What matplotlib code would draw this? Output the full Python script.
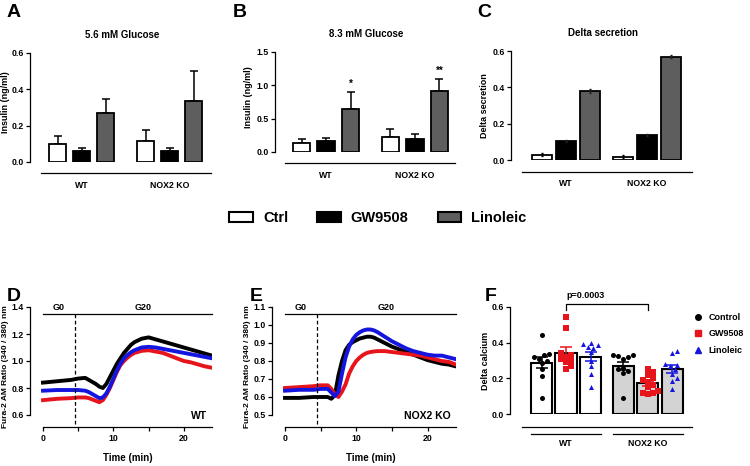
import numpy as np
import matplotlib
matplotlib.use("Agg")
import matplotlib.pyplot as plt
from matplotlib.patches import Patch
from matplotlib.lines import Line2D
from matplotlib.ticker import FormatStrFormatter

plt.rcParams['font.family'] = ['Liberation Sans', 'DejaVu Sans']
plt.rcParams['font.weight'] = 'bold'
plt.rcParams['axes.labelweight'] = 'bold'
plt.rcParams['axes.titleweight'] = 'bold'
plt.rcParams['axes.linewidth'] = 0.9

# ---- data ----
groups = ['WT', 'NOX2 KO']
treatments = ['Ctrl', 'GW9508', 'Linoleic']
bar_colors = ['white', 'black', '#5e5e5e']

# A: insulin at 5.6 mM glucose (ng/ml): mean and top of error bar, per group
ins56_mean = [[0.10, 0.058, 0.27], [0.115, 0.06, 0.335]]
ins56_top = [[0.145, 0.075, 0.345], [0.175, 0.075, 0.50]]
# B: insulin at 8.3 mM glucose
ins83_mean = [[0.13, 0.16, 0.65], [0.23, 0.19, 0.91]]
ins83_top = [[0.19, 0.21, 0.90], [0.35, 0.27, 1.10]]
ins83_stars = [['', '', '*'], ['', '', '**']]
# C: delta secretion, mean and SEM
delta_mean = [[0.03, 0.105, 0.38], [0.017, 0.137, 0.568]]
delta_sem = [[0.01, 0.006, 0.01], [0.008, 0.006, 0.009]]

# D / E: Fura-2 ratio time courses
t_min = [0, 2, 4, 5, 6, 6.5, 7, 7.5, 8, 8.5, 9, 9.5, 10, 10.5, 11, 11.5, 12,
         12.5, 13, 14, 15, 16, 17, 18, 19, 20, 21, 22, 23, 24]
wt_ctrl = [.84, .85, .86, .87, .875, .86, .845, .83, .81, .80, .83, .88, .93, .98,
           1.02, 1.06, 1.09, 1.12, 1.14, 1.165, 1.175, 1.16, 1.145, 1.13, 1.115,
           1.10, 1.085, 1.07, 1.055, 1.04]
wt_gw = [.71, .72, .725, .73, .73, .725, .715, .705, .695, .71, .75, .80, .86, .92,
         .97, 1.00, 1.025, 1.045, 1.06, 1.075, 1.08, 1.07, 1.06, 1.04, 1.02, 1.00,
         .99, .975, .96, .95]
wt_lin = [.78, .785, .785, .785, .78, .77, .755, .74, .725, .73, .76, .81, .87, .93,
          .98, 1.02, 1.045, 1.065, 1.08, 1.10, 1.105, 1.10, 1.09, 1.08, 1.07, 1.06,
          1.05, 1.04, 1.03, 1.02]
ko_ctrl = [.595, .595, .60, .60, .60, .59, .61, .72, .80, .86, .89, .905, .915, .925,
           .93, .935, .935, .93, .92, .90, .88, .865, .85, .835, .82, .805, .795,
           .785, .78, .77]
ko_gw = [.65, .655, .66, .665, .665, .645, .615, .60, .63, .67, .73, .77, .80, .82,
         .835, .845, .85, .853, .855, .855, .85, .845, .84, .835, .83, .82, .81,
         .80, .795, .78]
ko_lin = [.635, .64, .64, .645, .645, .625, .605, .63, .73, .82, .88, .92, .945, .96,
          .97, .975, .975, .97, .96, .935, .91, .89, .87, .855, .845, .835, .83,
          .83, .82, .81]
glucose_switch = 4.5

# F: delta calcium, individual cells
f_labels = ['Control', 'GW9508', 'Linoleic']
dca_wt = [
    [0.445, 0.335, 0.33, 0.32, 0.31, 0.30, 0.285, 0.25, 0.215, 0.09],
    [0.545, 0.485, 0.34, 0.33, 0.32, 0.31, 0.30, 0.29, 0.27, 0.25],
    [0.40, 0.395, 0.385, 0.375, 0.37, 0.345, 0.30, 0.27, 0.225, 0.15],
]
dca_ko = [
    [0.33, 0.33, 0.325, 0.32, 0.31, 0.26, 0.25, 0.24, 0.23, 0.09],
    [0.25, 0.235, 0.22, 0.20, 0.19, 0.18, 0.165, 0.15, 0.13, 0.12, 0.115, 0.11],
    [0.355, 0.34, 0.28, 0.275, 0.27, 0.25, 0.225, 0.20, 0.185, 0.14],
]
p_text = 'p=0.0003'

trace_colors = ['black', '#e8141c', '#1515e0']
markers = ['o', 's', '^']

W, H = 750, 466
fig = plt.figure(figsize=(W / 100, H / 100), dpi=100)

TICK_FS = 6.3
LABEL_FS = 6.5


def px_axes(left, top, right, bottom):
    return fig.add_axes([left / W, 1 - bottom / H, (right - left) / W, (bottom - top) / H])


def base_style(ax):
    ax.spines['top'].set_visible(False)
    ax.spines['right'].set_visible(False)
    ax.tick_params(labelsize=TICK_FS, width=0.9, length=3, pad=1.5)
    ax.patch.set_alpha(0)


def place_ylabel(ax, text, x_px, left, width, ycen=0.5, fs=LABEL_FS):
    # x_px is the right edge of the rotated label
    ax.set_ylabel(text, fontsize=fs)
    ax.yaxis.set_label_coords((x_px - left) / width, ycen)


def bar_axes(spec):
    ax = px_axes(spec['spine'], spec['top'], spec['right'], spec['bottom'])
    base_style(ax)
    ppu, first = spec['ppu'], spec['first']
    ax.set_xlim((spec['spine'] - first) / ppu, (spec['right'] - first) / ppu)
    ax.spines['bottom'].set_position(('outward', (spec['line_y'] - spec['bottom']) * 0.72))
    ax.spines['bottom'].set_bounds((spec['line'][0] - first) / ppu, (spec['line'][1] - first) / ppu)
    ax.set_xticks([1, spec['group'] + 1])
    ax.set_xticklabels(groups, fontsize=TICK_FS)
    ax.tick_params(axis='x', length=0, pad=spec['xpad'])
    return ax


def positions(spec):
    return [[g * spec['group'] + k for k in range(3)] for g in range(2)]


def insulin_panel(spec, means, tops, ylim, yticks, title, ylabel, stars=None):
    ax = bar_axes(spec)
    pos = positions(spec)
    for g in range(2):
        for k in range(3):
            ax.bar(pos[g][k], means[g][k], width=spec['width'], color=bar_colors[k],
                   edgecolor='black', linewidth=1.3, zorder=3)
            ax.errorbar(pos[g][k], means[g][k], yerr=[[0], [tops[g][k] - means[g][k]]],
                        fmt='none', ecolor='black', elinewidth=1.1, capsize=3.2,
                        capthick=1.1, zorder=2)
            if stars and stars[g][k]:
                ax.annotate(stars[g][k], (pos[g][k], tops[g][k]), xytext=(0, 2),
                            textcoords='offset points', ha='center', va='bottom', fontsize=7)
    ax.set_ylim(*ylim)
    ax.set_yticks(yticks)
    ax.yaxis.set_major_formatter(FormatStrFormatter('%.1f'))
    ax.set_title(title, fontsize=7, pad=11)
    place_ylabel(ax, ylabel, spec['ylab_x'], spec['spine'], spec['right'] - spec['spine'],
                 ycen=0.55)
    return ax


spec_a = dict(spine=30, top=53, bottom=162, right=214, first=57.5, ppu=24, group=3.67,
              width=0.71, line=(41, 211), line_y=173, xpad=6, ylab_x=10)
spec_b = dict(spine=275, top=52, bottom=152, right=458, first=301.5, ppu=24.5, group=3.63,
              width=0.7, line=(285, 455), line_y=163, xpad=6, ylab_x=253)
spec_c = dict(spine=511, top=51, bottom=160, right=695, first=542, ppu=24, group=3.375,
              width=0.83, line=(522, 692), line_y=172, xpad=5, ylab_x=489)
spec_f = dict(spine=510, top=307, bottom=414, right=695, first=541.5, ppu=24.5, group=3.33,
              width=0.86, line=(522, 692), line_y=427, xpad=9, ylab_x=490)

# A
insulin_panel(spec_a, ins56_mean, ins56_top, (0, 0.6), [0, 0.2, 0.4, 0.6],
              '5.6 mM Glucose', 'Insulin (ng/ml)')
# B
insulin_panel(spec_b, ins83_mean, ins83_top, (0, 1.5), [0, 0.5, 1.0, 1.5],
              '8.3 mM Glucose', 'Insulin (ng/ml)', stars=ins83_stars)
# C
ax_c = bar_axes(spec_c)
pos_c = positions(spec_c)
for g in range(2):
    for k in range(3):
        ax_c.bar(pos_c[g][k], delta_mean[g][k], width=spec_c['width'], color=bar_colors[k],
                 edgecolor='black', linewidth=1.3, zorder=2)
        ax_c.errorbar(pos_c[g][k], delta_mean[g][k], yerr=delta_sem[g][k], fmt='none',
                      ecolor='black' if k == 0 else '#222222', elinewidth=1.0, capsize=1,
                      zorder=3)
ax_c.set_ylim(0, 0.6)
ax_c.set_yticks([0, 0.2, 0.4, 0.6])
ax_c.yaxis.set_major_formatter(FormatStrFormatter('%.1f'))
ax_c.set_title('Delta secretion', fontsize=7, pad=11)
place_ylabel(ax_c, 'Delta secretion', spec_c['ylab_x'], spec_c['spine'],
             spec_c['right'] - spec_c['spine'])

# middle legend
handles = [Patch(facecolor=c, edgecolor='black', linewidth=1.5, label=l)
           for c, l in zip(bar_colors, treatments)]
fig.legend(handles=handles, loc='center', bbox_to_anchor=(378 / W, 1 - 218 / H), ncol=3,
           frameon=False, fontsize=10.5, handlelength=1.6, handleheight=0.62,
           handletextpad=0.7, columnspacing=2.0, borderpad=0)


# D / E
def trace_panel(left, right, traces, ylim, yticks, genotype, ylab_x):
    top, bottom = 307, 415
    ax = px_axes(left, top, right, bottom)
    base_style(ax)
    ppm = (right - left - 13) / 24.0
    ax.set_xlim(-13 / ppm, 24)
    for y, c in zip(traces, trace_colors):
        ax.plot(t_min, y, color=c, lw=2.8, solid_joinstyle='round')
    ax.set_ylim(*ylim)
    ax.set_yticks(yticks)
    ax.yaxis.set_major_formatter(FormatStrFormatter('%.1f'))
    ax.spines['bottom'].set_position(('outward', 12 * 0.72))
    ax.spines['bottom'].set_bounds(0, 24)
    ax.set_xticks([0, 10, 20])
    ax.set_xticks([5, 15], minor=True)
    ax.tick_params(axis='x', which='both', width=0.9, length=3, labelsize=TICK_FS, pad=2)
    # glucose phases
    gy = (bottom - 314) / (bottom - top)
    tr = ax.get_xaxis_transform()
    ax.plot([0, 24], [gy, gy], color='black', lw=0.9, transform=tr, clip_on=False)
    ax.plot([glucose_switch, glucose_switch], [gy, -12 / (bottom - top)], color='black',
            lw=0.9, ls=(0, (3, 2)), transform=tr, clip_on=False)
    ax.text(glucose_switch / 2, 0.995, 'G0', transform=tr, ha='center', va='center', fontsize=6.5)
    ax.text((glucose_switch + 24) / 2, 0.995, 'G20', transform=tr, ha='center', va='center',
            fontsize=6.5)
    ax.text(23.3, -0.01, genotype, transform=tr, ha='right', va='center', fontsize=7.5)
    ax.set_xlabel('Time (min)', fontsize=7)
    ax.xaxis.set_label_coords((12 + 13 / ppm) / (24 + 13 / ppm), -0.35)
    place_ylabel(ax, 'Fura-2 AM Ratio (340 / 380) nm', ylab_x, left, right - left,
                 ycen=0.45, fs=6.0)
    return ax


trace_panel(30, 212, [wt_ctrl, wt_gw, wt_lin], (0.6, 1.4),
            [0.6, 0.8, 1.0, 1.2, 1.4], 'WT', 9)
trace_panel(272, 456, [ko_ctrl, ko_gw, ko_lin], (0.5, 1.1),
            [0.5, 0.6, 0.7, 0.8, 0.9, 1.0, 1.1], 'NOX2 KO', 251)


# F
def swarm_offsets(values, ypx, xpx, size_px):
    order = np.argsort(values)
    placed = []
    offs = np.zeros(len(values))
    for i in order:
        y = values[i] * ypx
        x = 0.0
        for k in [0, 1, -1, 2, -2, 3, -3, 4, -4, 5, -5]:
            x = k * 0.5 * size_px
            if all((x - px) ** 2 + (y - py) ** 2 >= size_px ** 2 for px, py in placed):
                break
        placed.append((x, y))
        offs[i] = x / xpx
    return offs


ax_f = bar_axes(spec_f)
pos_f = positions(spec_f)
ypx_f = (spec_f['bottom'] - spec_f['top']) / 0.6
for g, data in enumerate([dca_wt, dca_ko]):
    fill = 'white' if g == 0 else '#d3d3d3'
    for k in range(3):
        vals = np.array(data[k])
        m = vals.mean()
        sem = vals.std(ddof=1) / np.sqrt(len(vals))
        x = pos_f[g][k]
        ax_f.bar(x, m, width=spec_f['width'], color=fill, edgecolor='black', linewidth=1.5,
                 zorder=2)
        xo = swarm_offsets(vals, ypx_f, spec_f['ppu'], 5.0)
        ax_f.scatter(x + xo, vals, s=13, marker=markers[k], color=trace_colors[k],
                     linewidths=0, zorder=3, clip_on=False)
        ax_f.errorbar(x, m, yerr=sem, fmt='none', ecolor=trace_colors[k], elinewidth=1.1,
                      capsize=4, capthick=1.1, zorder=4)
    left_edge = pos_f[g][0] - spec_f['width'] / 2
    right_edge = pos_f[g][2] + spec_f['width'] / 2
    ax_f.plot([left_edge, right_edge], [-20 / 107] * 2, color='black', lw=0.9,
              transform=ax_f.get_xaxis_transform(), clip_on=False)
ax_f.set_ylim(0, 0.6)
ax_f.set_yticks([0, 0.2, 0.4, 0.6])
ax_f.yaxis.set_major_formatter(FormatStrFormatter('%.1f'))
place_ylabel(ax_f, 'Delta calcium', spec_f['ylab_x'], spec_f['spine'],
             spec_f['right'] - spec_f['spine'])
x1, x2 = pos_f[0][1], pos_f[1][1]
ax_f.plot([x1, x1, x2, x2], [0.585, 0.618, 0.618, 0.585], color='black', lw=0.9, clip_on=False)
ax_f.text(x1, 0.64, p_text, ha='left', va='bottom', fontsize=6.5)
leg_handles = [Line2D([], [], ls='none', marker=m, color=c, markersize=4, label=l)
               for m, c, l in zip(markers, trace_colors, f_labels)]
fig.legend(handles=leg_handles, loc='center left', bbox_to_anchor=(689 / W, 1 - 334 / H),
           frameon=False, fontsize=6.5, handlelength=1.0, handletextpad=0.7,
           labelspacing=0.85, borderpad=0)

# panel letters
for letter, x, y in [('A', 7, 4), ('B', 233, 4), ('C', 477, 4),
                     ('D', 7, 288), ('E', 250, 288), ('F', 485, 288)]:
    fig.text(x / W, 1 - y / H, letter, fontsize=14, fontweight='bold', va='top', ha='left')

fig.savefig('out.png', dpi=100)
